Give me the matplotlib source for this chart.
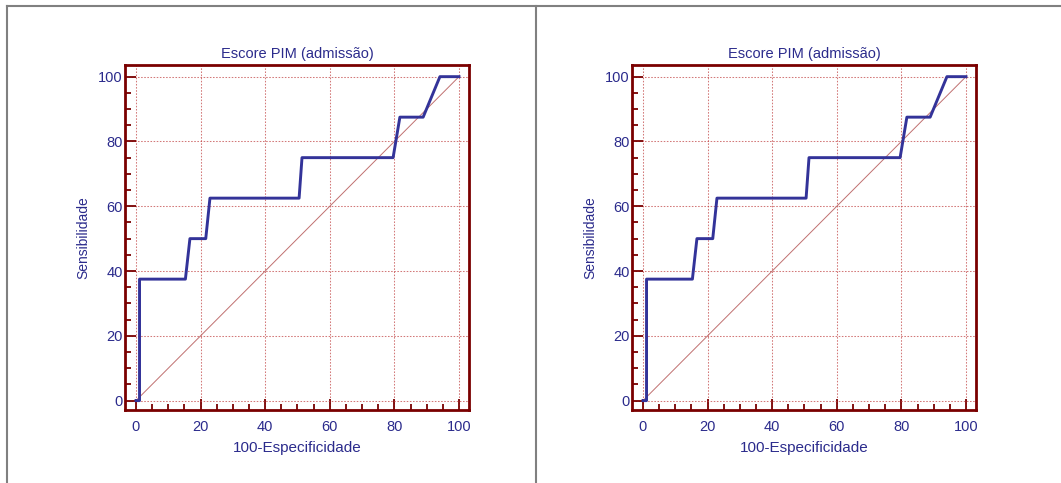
import numpy as np
import matplotlib
matplotlib.use('Agg')
import matplotlib.pyplot as plt
from matplotlib.lines import Line2D

plt.rcParams['font.family'] = ['Liberation Sans', 'DejaVu Sans']

# ROC curve points (100-specificity, sensitivity)
fpr = [0, 1.1, 1.1, 15.3, 16.7, 21.6, 22.9, 50.5, 51.4, 79.6, 81.7, 88.9, 94.1, 100]
tpr = [0, 0, 37.5, 37.5, 50, 50, 62.5, 62.5, 75, 75, 87.5, 87.5, 100, 100]
ticks = [0, 20, 40, 60, 80, 100]
title = 'Escore PIM (admissão)'
xlab = '100-Especificidade'
ylab = 'Sensibilidade'

txt_col = '#2b2b8c'
frame_col = '#7a0000'
curve_col = '#333399'

W, H = 1061, 483
fig = plt.figure(figsize=(W / 100, H / 100), dpi=100)


def roc_panel(left_px):
    ax = fig.add_axes([left_px / W, 1 - 410 / H, 344 / W, 345 / H])
    ax.plot([0, 100], [0, 100], color='#c07070', lw=0.7, zorder=2)
    ax.plot(fpr, tpr, color=curve_col, lw=2.1, zorder=3)
    ax.set_xlim(-3.4, 103.1)
    ax.set_ylim(-2.9, 103.6)
    ax.set_xticks(ticks)
    ax.set_yticks(ticks)
    ax.set_xticks(np.arange(0, 101, 5), minor=True)
    ax.set_yticks(np.arange(0, 101, 5), minor=True)
    ax.grid(True, which='major', color='#c04040', ls=(0, (1.5, 1.5)), lw=0.75, alpha=0.7)
    for s in ax.spines.values():
        s.set_color(frame_col)
        s.set_linewidth(2.0)
    ax.tick_params(which='major', direction='in', length=8, width=1.3, color=frame_col,
                   labelcolor=txt_col, labelsize=10.5)
    ax.tick_params(which='minor', direction='in', length=4.5, width=1.3, color=frame_col)
    ax.tick_params(axis='x', which='major', pad=7)
    ax.tick_params(axis='y', which='major', pad=1.5)
    ax.set_title(title, color=txt_col, fontsize=10.5, pad=5)
    ax.set_xlabel(xlab, color=txt_col, fontsize=11, labelpad=5)
    ax.set_ylabel(ylab, color=txt_col, fontsize=10, labelpad=6)
    return ax


roc_panel(125)
roc_panel(632)

# grey page frame and divider
grey = '#808080'
fig.add_artist(Line2D([6.5 / W, 1], [1 - 6 / H, 1 - 6 / H], color=grey, lw=1.5,
                      transform=fig.transFigure))
fig.add_artist(Line2D([6.5 / W, 6.5 / W], [0, 1 - 6 / H], color=grey, lw=1.5,
                      transform=fig.transFigure))
fig.add_artist(Line2D([535.5 / W, 535.5 / W], [0, 1 - 6 / H], color=grey, lw=1.5,
                      transform=fig.transFigure))

fig.savefig('out.png', dpi=100)
